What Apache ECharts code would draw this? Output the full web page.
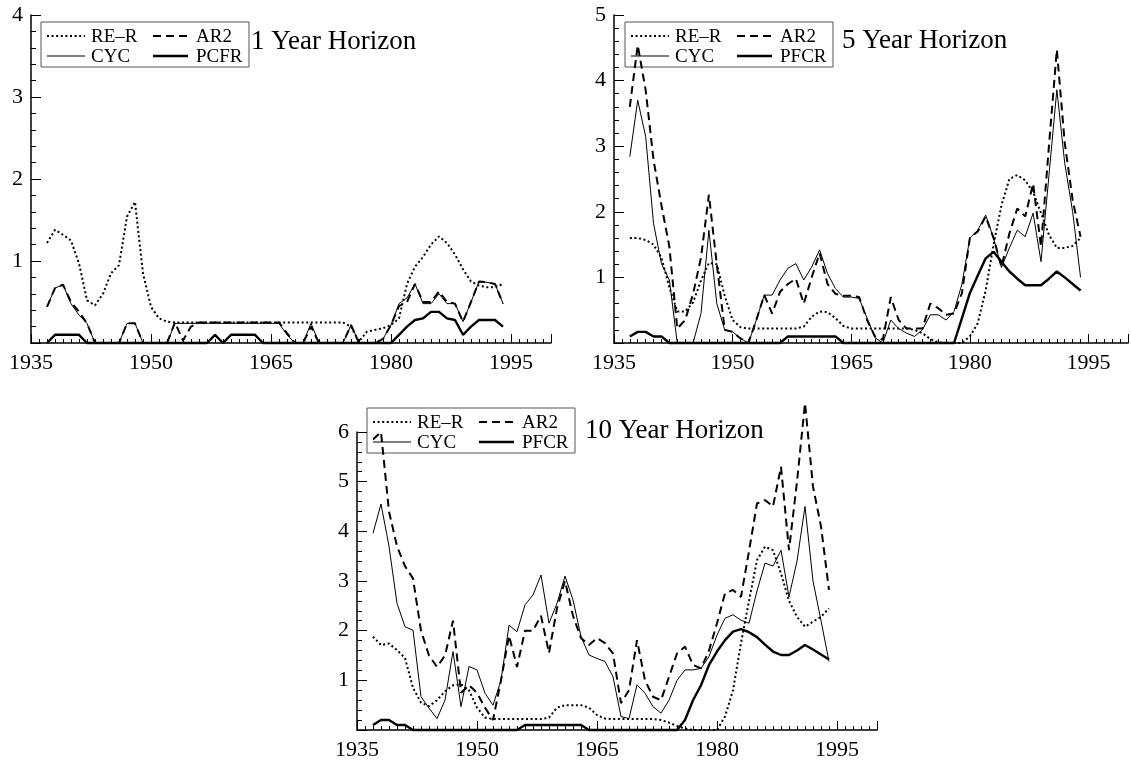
<!DOCTYPE html>
<html><head><meta charset="utf-8">
<script src="https://cdn.jsdelivr.net/npm/echarts@6/dist/echarts.min.js"></script>
<style>html,body{margin:0;padding:0;background:#fff;}#c{width:1131px;height:762px;}</style>
</head><body><div id="c"></div>
<script>
const years = [1937,1938,1939,1940,1941,1942,1943,1944,1945,1946,
 1947,1948,1949,1950,1951,1952,1953,1954,1955,1956,
 1957,1958,1959,1960,1961,1962,1963,1964,1965,1966,
 1967,1968,1969,1970,1971,1972,1973,1974,1975,1976,
 1977,1978,1979,1980,1981,1982,1983,1984,1985,1986,
 1987,1988,1989,1990,1991,1992,1993,1994];

const xTickLabels = [1935,1950,1965,1980,1995];
const panelTitles = ['1 Year Horizon','5 Year Horizon','10 Year Horizon'];
const legendNames = [['RE\u2013R','AR2','CYC','PCFR'],['RE\u2013R','AR2','CYC','PFCR'],['RE\u2013R','AR2','CYC','PFCR']];
const yMax = [4,5,6];

// 1 year horizon
const h1_rer = [1.22,1.38,1.32,1.25,0.97,0.52,0.46,0.6,0.85,0.95,
 1.54,1.72,0.85,0.44,0.3,0.26,0.25,0.25,0.25,0.25,
 0.25,0.25,0.25,0.25,0.25,0.25,0.25,0.25,0.25,0.25,
 0.25,0.25,0.25,0.25,0.25,0.25,0.25,0.25,0.2,0.02,
 0.14,0.16,0.18,0.22,0.3,0.72,0.93,1.05,1.2,1.3,
 1.22,1.08,0.9,0.75,0.7,0.68,0.68,0.72];
const h1_ar2 = [0.44,0.67,0.71,0.5,0.38,0.24,0,0,0,0,
 0.24,0.24,0,0,0,0,0.25,0.03,0.2,0.25,
 0.25,0.25,0.25,0.25,0.25,0.25,0.25,0.25,0.25,0.25,
 0.12,0,0,0.2,0,0,0,0,0.22,0,
 0,0,0.05,0.22,0.45,0.5,0.72,0.5,0.5,0.63,
 0.5,0.48,0.26,0.5,0.75,0.74,0.72,0.48];
const h1_cyc = [0.44,0.67,0.71,0.48,0.34,0.24,0,0,0,0,
 0.24,0.24,0,0,0,0,0.24,0.24,0.24,0.24,
 0.24,0.24,0.24,0.24,0.24,0.24,0.24,0.24,0.24,0.24,
 0.1,0,0,0.24,0,0,0,0,0.22,0,
 0,0,0.05,0.22,0.48,0.55,0.72,0.48,0.48,0.6,
 0.48,0.48,0.26,0.5,0.75,0.74,0.72,0.48];
const h1_pcfr = [0,0.1,0.1,0.1,0.1,0,0,0,0,0,
 0,0,0,0,0,0,0,0,0,0,
 0,0.1,0,0.1,0.1,0.1,0.1,0,0,0,
 0,0,0,0,0,0,0,0,0,0,
 0,0,0,0,0.1,0.2,0.28,0.3,0.38,0.38,
 0.3,0.28,0.1,0.2,0.28,0.28,0.28,0.2];

// 5 year horizon
const h5_rer = [1.6,1.6,1.57,1.5,1.3,0.85,0.48,0.48,0.62,0.95,
 1.22,1.2,0.72,0.35,0.24,0.22,0.22,0.22,0.22,0.22,
 0.22,0.22,0.25,0.4,0.48,0.47,0.38,0.26,0.22,0.22,
 0.22,0.22,0.22,0.22,0.22,0.22,0.2,0.15,0.06,0.01,
 0,0,0,0.1,0.3,0.8,1.5,2.1,2.5,2.56,
 2.48,2.3,1.98,1.65,1.45,1.45,1.48,1.6];
const h5_ar2 = [3.6,4.54,3.86,2.79,2.1,1.47,0.22,0.35,0.75,1.3,
 2.26,1.2,0.2,0.17,0.07,0,0.35,0.73,0.45,0.78,
 0.9,0.98,0.6,1.0,1.37,0.9,0.75,0.72,0.72,0.7,
 0.35,0.1,0.05,0.7,0.35,0.22,0.22,0.22,0.6,0.53,
 0.43,0.45,0.76,1.6,1.7,1.93,1.6,1.16,1.67,2.05,
 1.93,2.43,1.47,3.0,4.47,3.05,2.18,1.62];
const h5_cyc = [2.84,3.7,3.15,1.82,1.21,0.96,0,0,0,0.45,
 1.72,0.6,0.2,0.17,0.07,0,0.35,0.73,0.73,0.96,
 1.14,1.21,0.96,1.16,1.42,1.06,0.83,0.7,0.7,0.68,
 0.38,0.08,0,0.35,0.22,0.15,0.1,0.2,0.43,0.43,
 0.35,0.48,0.9,1.6,1.72,1.95,1.6,1.15,1.45,1.72,
 1.62,1.98,1.24,2.55,3.86,2.74,2.0,1.0];
const h5_pcfr = [0.1,0.17,0.17,0.1,0.1,0,0,0,0,0,
 0,0,0,0,0,0,0,0,0,0,
 0.1,0.1,0.1,0.1,0.1,0.1,0.1,0,0,0,
 0,0,0,0,0,0,0,0,0,0,
 0,0,0.38,0.76,1.03,1.29,1.39,1.24,1.09,0.98,
 0.88,0.88,0.88,0.98,1.09,1.0,0.9,0.8];

// 10 year horizon
const h10_rer = [1.88,1.71,1.74,1.61,1.45,0.85,0.55,0.48,0.6,0.78,
 0.9,0.92,0.8,0.45,0.25,0.22,0.22,0.22,0.22,0.22,
 0.22,0.22,0.25,0.45,0.5,0.5,0.5,0.45,0.3,0.23,
 0.22,0.22,0.22,0.22,0.22,0.22,0.2,0.15,0.08,0.03,
 0,0,0,0,0.27,0.8,1.75,2.6,3.42,3.69,
 3.62,3.15,2.6,2.28,2.08,2.18,2.28,2.45];
const h10_ar2 = [5.85,6.0,4.4,3.7,3.3,3.05,2.0,1.5,1.27,1.5,
 2.2,0.75,0.9,0.75,0.45,0.2,1.0,1.9,1.27,2.0,
 2.0,2.3,1.55,2.45,3.0,2.3,1.85,1.71,1.85,1.75,
 1.54,0.54,0.8,1.81,1.0,0.67,0.6,1.07,1.54,1.68,
 1.31,1.24,1.6,2.15,2.75,2.82,2.68,3.6,4.56,4.63,
 4.5,5.3,3.62,5.0,6.58,4.9,4.1,2.82];
const h10_cyc = [3.96,4.55,3.7,2.55,2.08,2.01,0.67,0.44,0.23,0.6,
 1.58,0.47,1.28,1.21,0.74,0.5,1.0,2.11,1.98,2.52,
 2.72,3.12,2.15,2.55,3.1,2.62,1.88,1.51,1.44,1.38,
 1.07,0.27,0.23,0.91,0.74,0.47,0.34,0.6,1.0,1.21,
 1.21,1.24,1.48,1.91,2.25,2.32,2.21,2.15,2.8,3.36,
 3.3,3.62,2.68,3.4,4.5,3.0,2.2,1.38];
const h10_pcfr = [0.1,0.2,0.2,0.1,0.1,0,0,0,0,0,
 0,0,0,0,0,0,0,0,0,0.1,
 0.1,0.1,0.1,0.1,0.1,0.1,0.1,0,0,0,
 0,0,0,0,0,0,0,0,0,0.2,
 0.6,0.9,1.31,1.58,1.81,1.98,2.03,1.97,1.87,1.72,
 1.58,1.51,1.51,1.6,1.71,1.62,1.52,1.42];

const panels = [
  [h1_rer, h1_ar2, h1_cyc, h1_pcfr],
  [h5_rer, h5_ar2, h5_cyc, h5_pcfr],
  [h10_rer, h10_ar2, h10_cyc, h10_pcfr]
];

const FONT = '"Liberation Serif","Times New Roman",serif';
const styles = [
  {color:'#000', width:2, type:[2,2.6], cap:'butt'},
  {color:'#000', width:2, type:[8,5], cap:'butt'},
  {color:'#000', width:1},
  {color:'#000', width:2.4}
];
const grids = [
  {left:31, top:15, width:520, height:328},
  {left:614, top:15, width:520, height:328},
  {left:357, top:432, width:520, height:298}
];
const legendBoxes = [[41,22],[625,22],[367,408]];
const titlePos = [[251,42],[842,41],[585,431]];

const xAxes = [], yAxes = [], series = [], graphics = [];
grids.forEach((g, i) => {
  xAxes.push({type:'value', gridIndex:i, position:'bottom', min:1935, max:2000, interval:1,
    axisLine:{show:true, lineStyle:{color:'#000', width:1.5}},
    axisTick:{show:true, inside:true, length:4, lineStyle:{color:'#000', width:1}},
    axisLabel:{show:false}, splitLine:{show:false}});
  xAxes.push({type:'value', gridIndex:i, position:'bottom', min:1935, max:2000, interval:15,
    axisLine:{show:false},
    axisTick:{show:true, inside:true, length:9, lineStyle:{color:'#000', width:1}},
    axisLabel:{show:true, margin:9, color:'#000', fontFamily:FONT, fontSize:22,
      formatter: v => xTickLabels.indexOf(v) >= 0 ? String(v) : ''},
    splitLine:{show:false}});
  yAxes.push({type:'value', gridIndex:i, min:0, max:yMax[i], interval:1,
    axisLine:{show:true, lineStyle:{color:'#000', width:1.5}},
    axisTick:{show:true, inside:true, length:10, lineStyle:{color:'#000', width:1}},
    minorTick:{show:true, splitNumber:5, length:5, lineStyle:{color:'#000', width:1}},
    axisLabel:{show:true, margin:8, color:'#000', fontFamily:FONT, fontSize:22,
      formatter: v => v === 0 ? '' : String(v)},
    splitLine:{show:false}, minorSplitLine:{show:false}});
  panels[i].forEach((vals, k) => {
    series.push({type:'line', name:legendNames[i][k], xAxisIndex:2*i, yAxisIndex:i,
      data: years.map((y, j) => [y, vals[j]]), symbol:'none', clip:false,
      lineStyle: styles[k], animation:false, z: 2 + (k===3 ? 1 : 0)});
  });
  // legend
  const [bx, by] = legendBoxes[i];
  const children = [{type:'rect', shape:{x:0, y:0, width:208, height:45},
    style:{fill:'#fff', stroke:'#555', lineWidth:1}}];
  const pos = [[6,44,50,14],[112,147,155,14],[6,44,50,34],[112,147,155,34]];
  [0,1,2,3].forEach((k, n) => {
    const [x1,x2,tx,ry] = pos[n];
    const st = styles[k];
    children.push({type:'line', shape:{x1:x1, y1:ry, x2:x2, y2:ry},
      style:{stroke:'#000', lineWidth:st.width, lineDash: Array.isArray(st.type)? st.type : null}});
    children.push({type:'text', x:tx, y:ry+1, style:{text:legendNames[i][k], fill:'#000',
      font:'19px ' + FONT, textVerticalAlign:'middle', verticalAlign:'middle'}});
  });
  graphics.push({type:'group', x:bx, y:by, z:100, children:children});
  graphics.push({type:'text', x:titlePos[i][0], y:titlePos[i][1], z:100,
    style:{text:panelTitles[i], fill:'#000', font:'27px ' + FONT, textVerticalAlign:'middle', verticalAlign:'middle'}});
});

const chart = echarts.init(document.getElementById('c'), null, {renderer:'canvas'});
chart.setOption({
  animation:false,
  backgroundColor:'#fff',
  grid: grids,
  xAxis: xAxes,
  yAxis: yAxes,
  series: series,
  graphic: graphics
});
</script>
</body></html>
